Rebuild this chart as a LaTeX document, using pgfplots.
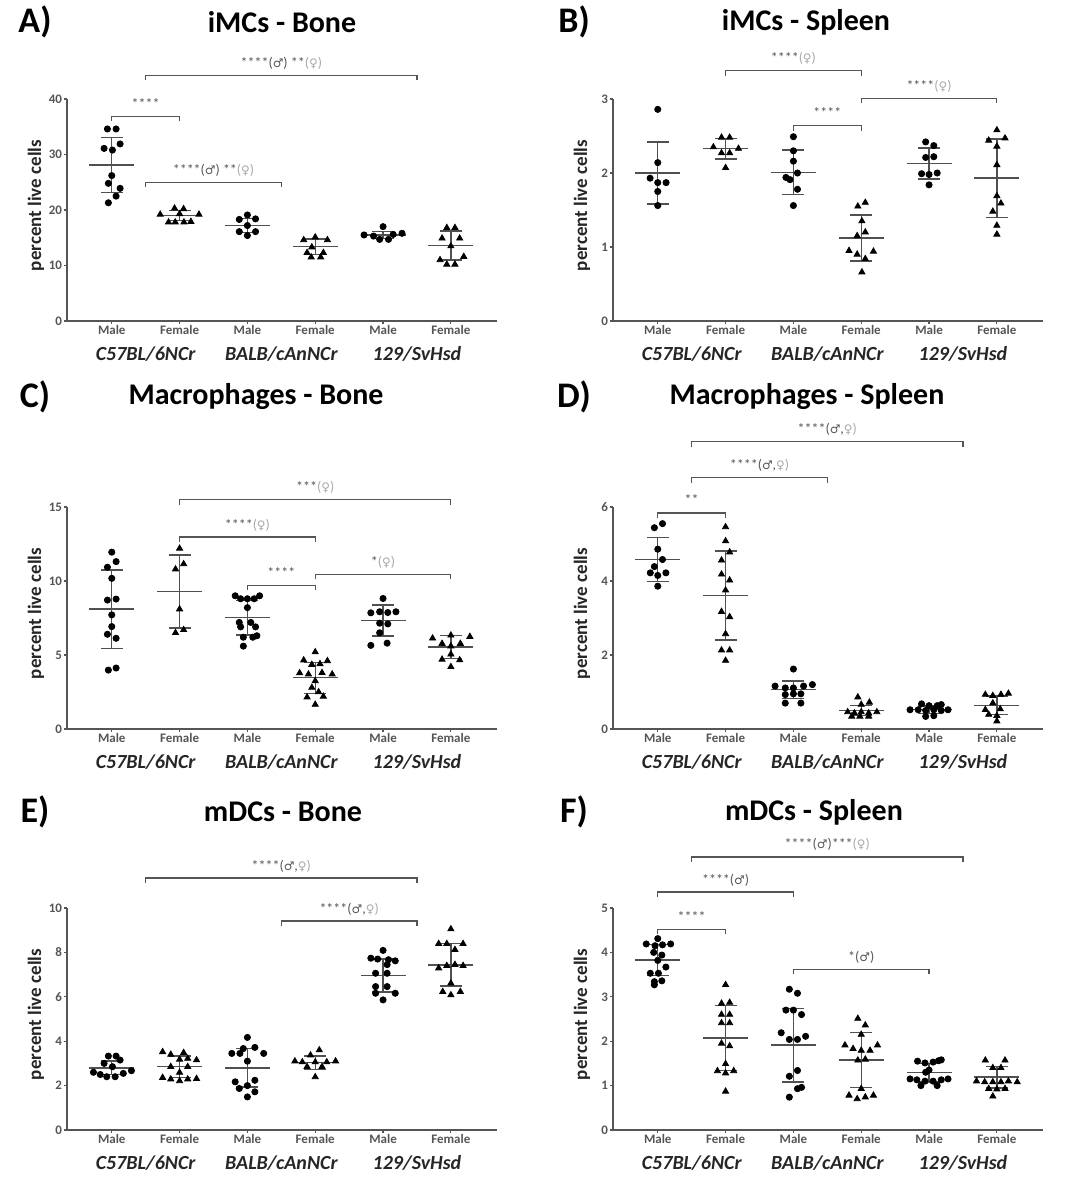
\documentclass[border=0pt]{standalone}
\usepackage{pgfplots}
\pgfplotsset{compat=1.18}
\usepackage{fontspec}
\setmainfont{Carlito}
\newfontfamily\sym{DejaVu Sans}[Scale=0.85]
\definecolor{axc}{HTML}{555555}
\definecolor{sumc}{HTML}{505050}
\definecolor{sigc}{HTML}{555555}
\definecolor{fem}{HTML}{A8A8A8}
\newcommand{\ma}{{\sym ♂}}
\newcommand{\fe}{{\sym ♀}}
\tikzset{
 strain/.style={font=\fontsize{10}{12}\selectfont\bfseries\itshape, text=black!85, yshift=-16.5pt, anchor=center},
 brk/.style={draw=sigc, line width=0.6pt},
 sig/.style={font=\fontsize{7}{8}\selectfont, text=sigc, anchor=base, inner sep=0pt},
 ttl/.style={font=\fontsize{15}{17}\selectfont\bfseries, anchor=center, inner sep=0pt},
 let/.style={font=\fontsize{18}{20}\selectfont\bfseries, anchor=center, inner sep=0pt},
}
\newcommand{\strains}{%
 \node[strain] at (axis cs:0.5,0) {C57BL/6NCr};
 \node[strain] at (axis cs:2.5,0) {BALB/cAnNCr};
 \node[strain] at (axis cs:4.5,0) {129/SvHsd};}
\newcommand{\brk}[5]{%
 \draw[brk] ([yshift=-2.5pt]axis cs:#1,#3) -- (axis cs:#1,#3) -- (axis cs:#2,#3) -- ([yshift=-2.5pt]axis cs:#2,#3);
 \node[sig] at ([yshift=4pt]axis cs:#4,#3) {#5};}
\pgfplotsset{
 panel/.style={
  scale only axis, width=215pt, height=111pt,
  xmin=-0.66, xmax=5.68, ymin=0,
  axis x line*=bottom, axis y line*=left,
  axis line style={draw=axc, line width=0.75pt, -},
  xtick={0,1,2,3,4,5}, xticklabels={Male,Female,Male,Female,Male,Female},
  tick style={draw=axc, line width=0.6pt},
  tick align=outside, major tick length=1.5pt,
  ticklabel style={font=\fontsize{6.5}{7}\selectfont\bfseries, text=axc},
  xticklabel style={yshift=3pt},
  yticklabel style={inner xsep=0.8pt},
  ylabel={percent live cells},
  ylabel style={font=\fontsize{9.5}{10}\selectfont\bfseries, text=black!85, at={(axis description cs:-0.072,0.52)}, anchor=center},
  clip=false,
  /pgf/number format/assume math mode=true,
 },
 male/.style={only marks, mark=*, mark size=1.55pt, mark options={fill=black, draw=black}},
 female/.style={only marks, mark=triangle*, mark size=1.75pt, mark options={fill=black, draw=black}},
 summ/.style={only marks, mark=-, mark size=11.25pt, mark options={draw=sumc, line width=0.7pt},
  error bars/.cd, y dir=both, y explicit, error mark=|,
  error mark options={mark size=5.5pt, draw=sumc, line width=0.7pt},
  error bar style={draw=sumc, line width=0.7pt}},
}
\begin{document}
\begin{tikzpicture}
\path[use as bounding box] (0,0) rectangle (540pt,590pt);
% ---------------- A
\begin{axis}[panel, at={(33.5pt,429.5pt)}, anchor=south west, ymax=40, ytick={0,10,20,30,40}]
\addplot[summ] coordinates {(0,28.1) +- (0,5.0) (1,19.0) +- (0,0.9) (2,17.2) +- (0,1.3) (3,13.4) +- (0,1.4) (4,15.5) +- (0,0.6) (5,13.6) +- (0,2.6)};
\addplot[male] coordinates {(-0.064,34.6)(0.064,34.6)(-0.113,31.1)(0.01,30.8)(0.123,31.9)(0,26.2)(-0.05,24.8)(0.123,23.9)(0.064,22.5)(-0.05,21.3)
 (1.88,18.3)(2,19.1)(2.12,18.4)(2,17.2)(1.88,16.1)(2.12,16.1)(2,15.4)
 (3.72,15.5)(3.86,15.3)(3.95,14.7)(4,17.0)(4.08,14.7)(4.15,15.6)(4.28,15.8)};
\addplot[female] coordinates {(0.926,20.3)(1.059,20.2)(0.714,19.2)(1,19.3)(1.286,19.2)(0.837,17.8)(0.936,17.8)(1.064,17.8)(1.167,17.9)
 (3,15.1)(2.83,14.6)(3.18,14.6)(2.95,13.3)(2.88,12.3)(3.12,12.3)(2.94,11.5)(3.08,11.5)
 (4.94,16.8)(5.06,16.8)(4.87,14.9)(5.13,14.9)(5,13.5)(4.84,11.0)(5.19,11.6)(4.94,10.2)(5.06,10.2)};
\strains
\brk{0.5}{4.5}{44.3}{2.5}{****(\ma) **\textcolor{fem}{(\fe)}}
\brk{0}{1}{36.9}{0.5}{****}
\brk{0.5}{2.5}{25.0}{1.5}{****(\ma) **\textcolor{fem}{(\fe)}}
\end{axis}
% ---------------- B
\begin{axis}[panel, at={(306.5pt,429.5pt)}, anchor=south west, ymax=3, ytick={0,1,2,3}]
\addplot[summ] coordinates {(0,2.0) +- (0,0.42) (1,2.33) +- (0,0.14) (2,2.01) +- (0,0.30) (3,1.12) +- (0,0.31) (4,2.13) +- (0,0.21) (5,1.93) +- (0,0.53)};
\addplot[male] coordinates {(0,2.86)(0,2.14)(-0.113,1.93)(0,1.87)(0.123,1.87)(0,1.75)(0,1.56)
 (2,2.49)(2,2.30)(2,2.16)(1.89,1.94)(1.95,1.91)(2.06,2.0)(2.06,1.78)(2,1.56)
 (3.95,2.42)(4.07,2.37)(3.95,2.21)(4.07,2.22)(3.89,1.99)(4,1.98)(4.12,2.0)(4,1.84)};
\addplot[female] coordinates {(0.94,2.48)(1.06,2.48)(0.82,2.35)(1.19,2.33)(0.94,2.27)(1.06,2.27)(1,2.07)
 (2.95,1.55)(3.06,1.60)(3.01,1.35)(2.94,1.15)(3.06,1.20)(2.82,0.95)(2.94,0.90)(3.18,0.94)(3.06,0.84)(3.01,0.66)
 (5,2.58)(4.88,2.44)(5.12,2.47)(5,2.36)(5,2.11)(5,1.69)(5.06,1.59)(4.94,1.48)(5,1.29)(5,1.17)};
\strains
\brk{1}{3}{3.38}{2}{****\textcolor{fem}{(\fe)}}
\brk{2}{3}{2.64}{2.5}{****}
\brk{3}{5}{3.01}{4}{****\textcolor{fem}{(\fe)}}
\end{axis}
% ---------------- C
\begin{axis}[panel, at={(33.5pt,225.5pt)}, anchor=south west, ymax=15, ytick={0,5,10,15}]
\addplot[summ] coordinates {(0,8.1) +- (0,2.65) (1,9.3) +- (0,2.47) (2,7.53) +- (0,1.17) (3,3.46) +- (0,1.05) (4,7.33) +- (0,1.04) (5,5.54) +- (0,0.76)};
\addplot[male] coordinates {(0,11.95)(-0.064,10.93)(0.064,11.31)(0,10.18)(-0.064,8.71)(0.064,8.78)(0,7.71)(0,6.92)(-0.064,6.40)(0.064,6.13)(-0.05,3.98)(0.064,4.12)
 (1.82,9.0)(1.9,8.8)(2,8.8)(2.1,8.8)(2.18,9.0)(2,8.2)(1.88,7.2)(2.05,7.2)(1.9,6.9)(2.12,6.9)(1.94,6.2)(2.08,6.2)(2.14,6.3)(1.94,5.6)
 (4,8.82)(3.82,7.85)(3.95,7.92)(4.07,7.87)(4.19,7.92)(3.95,7.15)(4.07,7.1)(3.95,6.5)(3.82,5.65)(4.06,5.8)};
\addplot[female] coordinates {(1,12.2)(1.06,11.15)(0.94,10.8)(1,8.1)(0.94,6.5)(1.06,6.7)
 (3,5.2)(2.83,4.65)(3.18,4.6)(2.95,4.35)(3.07,4.4)(2.77,3.78)(2.9,3.7)(3.1,3.8)(3.25,3.7)(3,3.25)(2.95,2.8)(2.88,2.15)(3.12,2.2)(3,1.65)(3.05,2.5)
 (4.73,6.13)(4.87,5.77)(5,6.33)(5.14,5.77)(5.28,6.24)(5,5.05)(4.87,4.7)(5.13,4.66)(5,4.2)(5,5.6)};
\strains
\brk{1}{5}{15.5}{3}{***\textcolor{fem}{(\fe)}}
\brk{1}{3}{12.97}{2}{****\textcolor{fem}{(\fe)}}
\brk{2}{3}{9.71}{2.5}{****}
\brk{3}{5}{10.45}{4}{*\textcolor{fem}{(\fe)}}
\end{axis}
% ---------------- D
\begin{axis}[panel, at={(306.5pt,225.5pt)}, anchor=south west, ymax=6, ytick={0,2,4,6}]
\addplot[summ] coordinates {(0,4.58) +- (0,0.6) (1,3.61) +- (0,1.2) (2,1.06) +- (0,0.24) (3,0.5) +- (0,0.14) (4,0.52) +- (0,0.1) (5,0.64) +- (0,0.25)};
\addplot[male] coordinates {(-0.05,5.44)(0.07,5.55)(0,4.86)(-0.05,4.39)(0.07,4.58)(-0.11,4.22)(0,4.15)(0.12,4.22)(0,3.86)
 (2,1.62)(1.73,1.16)(1.88,1.11)(2,1.11)(2.15,1.16)(2.28,1.2)(1.88,0.93)(2,0.95)(2.11,0.95)(1.88,0.70)(2.11,0.70)
 (3.89,0.68)(4,0.63)(4.12,0.63)(4.18,0.66)(3.72,0.52)(3.84,0.52)(4.07,0.52)(4.28,0.52)(3.95,0.34)(4.07,0.36)(3.95,0.5)(4.18,0.5)};
\addplot[female] coordinates {(1,5.46)(1,5.08)(1.06,4.78)(0.94,4.56)(0.94,4.18)(1.06,4.02)(1,3.75)(0.94,3.17)(1.06,3.03)(1,2.57)(0.94,2.13)(1.06,2.13)(1,1.85)
 (2.95,0.86)(3.12,0.72)(3,0.66)(2.8,0.46)(2.9,0.43)(3,0.46)(3.11,0.43)(3.23,0.46)(2.86,0.34)(2.98,0.34)(3.11,0.34)
 (4.83,0.93)(4.94,0.9)(5.06,0.93)(5.17,0.96)(4.94,0.7)(4.83,0.52)(5.05,0.54)(4.88,0.39)(5,0.36)(5,0.21)};
\strains
\brk{0.5}{4.5}{7.77}{2.5}{****(\ma,\textcolor{fem}{\fe)}}
\brk{0.5}{2.5}{6.79}{1.5}{****(\ma,\textcolor{fem}{\fe)}}
\brk{0}{1}{5.84}{0.5}{**}
\end{axis}
% ---------------- E
\begin{axis}[panel, at={(33.5pt,25pt)}, anchor=south west, ymax=10, ytick={0,2,4,6,8,10}]
\addplot[summ] coordinates {(0,2.8) +- (0,0.3) (1,2.85) +- (0,0.48) (2,2.8) +- (0,0.87) (3,3.03) +- (0,0.3) (4,6.96) +- (0,0.75) (5,7.44) +- (0,0.96)};
\addplot[male] coordinates {(-0.05,3.33)(0.064,3.33)(-0.113,3.0)(0.123,3.15)(0.01,2.85)(-0.27,2.6)(-0.17,2.5)(-0.074,2.4)(0.05,2.4)(0.17,2.55)(0.29,2.67)
 (2,4.17)(1.94,3.67)(2.11,3.72)(1.77,3.45)(1.89,3.45)(2.24,3.45)(2,3.1)(1.82,2.17)(2.11,2.24)(1.88,1.87)(2,2.0)(2.11,1.72)(2,1.49)
 (3.82,7.74)(3.92,7.7)(4.08,7.67)(4.18,7.62)(4,8.09)(4.06,7.45)(3.89,7.06)(4.06,7.06)(3.89,6.46)(4.06,6.46)(3.89,6.16)(4.18,6.16)(4,5.86)};
\addplot[female] coordinates {(0.75,3.52)(0.87,3.4)(1.06,3.48)(1.25,3.15)(1,3.18)(1.12,3.22)(0.87,2.85)(1.12,2.85)(0.75,2.36)(0.87,2.29)(1,2.21)(1.12,2.29)(1.25,2.31)(1,2.59)
 (3.06,3.6)(2.93,3.37)(2.7,3.1)(2.81,3.06)(3,3.06)(3.17,3.06)(3.3,3.1)(2.88,2.85)(3.1,2.85)(3,2.39)
 (5,9.05)(4.82,8.39)(4.94,8.39)(5.18,8.39)(5.06,8.12)(4.82,7.29)(4.94,7.4)(5.06,7.45)(5.18,7.4)(5,6.61)(4.88,6.23)(5.14,6.23)(5,6.08)};
\strains
\brk{0.5}{4.5}{11.35}{2.5}{****(\ma,\textcolor{fem}{\fe)}}
\brk{2.5}{4.5}{9.41}{3.5}{****(\ma,\textcolor{fem}{\fe)}}
\end{axis}
% ---------------- F
\begin{axis}[panel, at={(306.5pt,25pt)}, anchor=south west, ymax=5, ytick={0,1,2,3,4,5}]
\addplot[summ] coordinates {(0,3.83) +- (0,0.35) (1,2.07) +- (0,0.73) (2,1.91) +- (0,0.83) (3,1.58) +- (0,0.62) (4,1.29) +- (0,0.21) (5,1.19) +- (0,0.24)};
\addplot[male] coordinates {(0,4.31)(-0.17,4.19)(-0.04,4.15)(0.07,4.17)(0.19,4.19)(-0.06,4.0)(0.06,3.94)(0,3.82)(0.12,3.67)(-0.11,3.53)(0.01,3.53)(-0.05,3.34)(0.06,3.36)(-0.05,3.27)
 (1.94,3.17)(2.06,3.08)(1.89,2.70)(2,2.70)(2.12,2.6)(1.82,2.19)(1.94,2.04)(2.06,2.04)(2.18,2.11)(2.06,1.34)(1.94,1.21)(2.06,0.93)(2.12,0.96)(1.94,0.74)
 (3.83,1.55)(3.94,1.51)(4.06,1.53)(4.14,1.56)(4.18,1.58)(3.72,1.15)(3.82,1.13)(3.94,1.1)(4.06,1.1)(4.18,1.13)(4.28,1.15)(3.88,1.0)(4.12,1.0)(4,1.35)(3.95,1.3)};
\addplot[female] coordinates {(1,3.27)(0.94,2.85)(1.06,2.87)(0.94,2.6)(1.06,2.6)(0.94,2.41)(1.06,2.41)(0.94,1.95)(1.06,1.89)(1,1.49)(0.88,1.33)(1,1.28)(1.12,1.33)(1,0.87)
 (2.95,2.51)(3.06,2.36)(3,2.15)(2.76,1.91)(2.88,1.83)(3,1.79)(3.13,1.79)(3.24,1.91)(2.95,1.57)(3.06,1.59)(3,0.93)(2.82,0.78)(2.94,0.70)(3.06,0.74)(3.18,0.78)
 (4.83,1.57)(5.12,1.57)(4.94,1.4)(5.06,1.4)(4.7,1.1)(4.82,1.08)(4.94,1.08)(5.06,1.08)(5.17,1.1)(5.3,1.08)(4.88,0.93)(5,0.92)(5.12,0.93)(4.94,0.76)};
\strains
\brk{0.5}{4.5}{6.15}{2.5}{****(\ma)***\textcolor{fem}{(\fe)}}
\brk{0}{2}{5.36}{1}{****(\ma)}
\brk{0}{1}{4.52}{0.5}{****}
\brk{2}{4}{3.62}{3}{*(\ma)}
\end{axis}
% ---------------- titles
\node[let] at (17.5pt,579pt) {A)};
\node[let] at (287pt,579pt) {B)};
\node[ttl] at (141pt,579pt) {iMCs - Bone};
\node[ttl] at (403pt,579pt) {iMCs - Spleen};
\node[let] at (17.5pt,391.5pt) {C)};
\node[let] at (287pt,391.5pt) {D)};
\node[ttl] at (128pt,391.5pt) {Macrophages - Bone};
\node[ttl] at (403.5pt,391.5pt) {Macrophages - Spleen};
\node[let] at (17.5pt,184pt) {E)};
\node[let] at (287pt,184pt) {F)};
\node[ttl] at (141.5pt,184pt) {mDCs - Bone};
\node[ttl] at (407pt,184pt) {mDCs - Spleen};
\end{tikzpicture}
\end{document}
